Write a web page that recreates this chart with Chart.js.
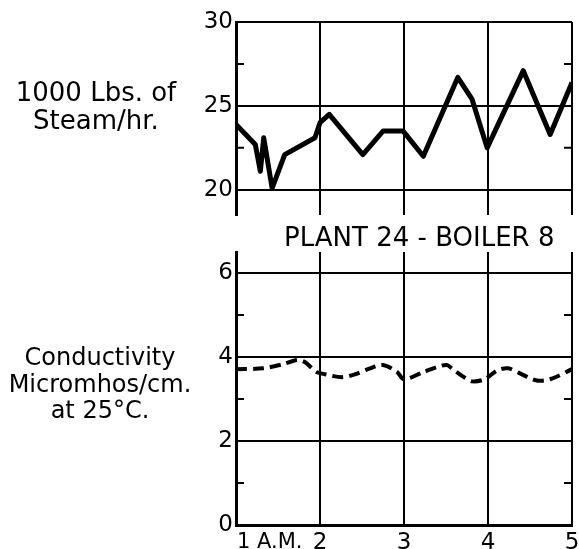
<!DOCTYPE html>
<html>
<head>
<meta charset="utf-8">
<script src="https://cdn.jsdelivr.net/npm/chart.js@4"></script>
<style>
  body { margin: 0; background: #fff; }
  #wrap { position: relative; width: 579px; height: 549px; font-family: "DejaVu Sans", sans-serif; color: #000; }
  canvas { position: absolute; left: 0; }
  .lbl { position: absolute; text-align: center; white-space: nowrap; }
</style>
</head>
<body>
<div id="wrap">
  <canvas id="steamChart" width="579" height="232" style="top:0"></canvas>
  <canvas id="condChart" width="579" height="329" style="top:220px"></canvas>
  <div class="lbl" style="left:0;top:78px;width:192px;line-height:28px;font-size:26px;">1000 Lbs. of<br>Steam/hr.</div>
  <div class="lbl" style="left:4px;top:344px;width:192px;line-height:26.5px;font-size:24px;">Conductivity<br>Micromhos/cm.<br>at 25°C.</div>
  <div class="lbl" style="left:284px;top:222px;font-size:26px;line-height:30px;">PLANT 24 - BOILER 8</div>
</div>
<script>
// hours after 1 A.M.
var hourTicks = [1, 2, 3, 4, 5];
var hourLabels = ["1 A.M.", "2", "3", "4", "5"];

// steam flow, 1000 lbs/hr
var steamHours = [1.0, 1.23, 1.29, 1.33, 1.43, 1.58, 1.94, 2.0, 2.11, 2.51, 2.75, 2.99, 3.23, 3.64, 3.81, 3.99, 4.42, 4.74, 5.0];
var steamValues = [23.9, 22.7, 21.1, 23.1, 20.1, 22.1, 23.1, 24.0, 24.5, 22.1, 23.5, 23.5, 22.0, 26.7, 25.4, 22.5, 27.1, 23.3, 26.4];
var steamTicks = [20, 22.5, 25, 27.5, 30];
var steamLabels = [20, 25, 30];

// conductivity, micromhos/cm
var condHours = [1.0, 1.32, 1.56, 1.73, 1.82, 1.96, 2.06, 2.26, 2.42, 2.57, 2.75, 2.92, 3.0, 3.23, 3.39, 3.51, 3.58, 3.70, 3.81, 3.96, 4.11, 4.24, 4.38, 4.58, 4.74, 5.0];
var condValues = [3.71, 3.73, 3.83, 3.93, 3.88, 3.64, 3.59, 3.52, 3.59, 3.71, 3.81, 3.64, 3.47, 3.64, 3.76, 3.81, 3.71, 3.54, 3.42, 3.47, 3.68, 3.73, 3.61, 3.44, 3.47, 3.71];
var condTicks = [0, 1, 2, 3, 4, 5, 6];
var condLabels = [0, 2, 4, 6];

function pts(xs, ys) {
  return xs.map(function (x, i) { return { x: x, y: ys[i] }; });
}

var tickFont = { family: "DejaVu Sans", size: 23 };

// short inside tick marks for the unlabeled values
var minorTicks = {
  id: 'minorTicks',
  afterDraw: function (chart) {
    var y = chart.scales.y, a = chart.chartArea, c = chart.ctx;
    var labels = chart.options.plugins.minorTicks.labels;
    c.save();
    c.strokeStyle = '#000';
    c.lineWidth = 2;
    y.ticks.forEach(function (t) {
      if (labels.indexOf(t.value) >= 0) return;
      var py = y.getPixelForValue(t.value);
      c.beginPath();
      c.moveTo(a.left, py); c.lineTo(a.left + 8, py);
      c.moveTo(a.right - 8, py); c.lineTo(a.right, py);
      c.stroke();
    });
    c.restore();
  }
};

// x labels: first one starts at the axis, others centered
var hourText = {
  id: 'hourText',
  afterDraw: function (chart) {
    if (!chart.options.plugins.hourText.show) return;
    var x = chart.scales.x, a = chart.chartArea, c = chart.ctx;
    c.save();
    c.fillStyle = '#000';
    c.textBaseline = 'middle';
    hourTicks.forEach(function (h, i) {
      c.font = (i === 0 ? '21px' : '23px') + ' "DejaVu Sans"';
      c.textAlign = i === 0 ? 'left' : 'center';
      c.fillText(hourLabels[i], x.getPixelForValue(h) + (i === 0 ? 1 : 0), a.bottom + 18);
    });
    c.restore();
  }
};

function makeOptions(yMin, yMax, ticks, labels, pad, showX) {
  return {
    responsive: false,
    animation: false,
    layout: { padding: pad },
    plugins: {
      legend: { display: false },
      tooltip: { enabled: false },
      minorTicks: { labels: labels },
      hourText: { show: showX }
    },
    scales: {
      x: {
        type: 'linear',
        min: 1, max: 5,
        afterBuildTicks: function (s) { s.ticks = hourTicks.map(function (v) { return { value: v }; }); },
        afterFit: function (s) { s.height = 0; },
        ticks: { display: false },
        grid: { color: '#000', lineWidth: 2, drawTicks: false },
        border: { display: showX, color: '#000', width: 3 }
      },
      y: {
        min: yMin, max: yMax,
        afterBuildTicks: function (s) { s.ticks = ticks.map(function (v) { return { value: v }; }); },
        afterFit: function (s) { s.width = 236; },
        ticks: {
          color: '#000',
          font: tickFont,
          padding: 3,
          callback: function (v) { return labels.indexOf(v) >= 0 ? String(v) : ''; }
        },
        grid: {
          drawTicks: false,
          lineWidth: 2,
          color: function (ctx) {
            return ctx.tick && labels.indexOf(ctx.tick.value) >= 0 ? '#000' : 'rgba(0,0,0,0)';
          }
        },
        border: { color: '#000', width: 3 }
      }
    }
  };
}

new Chart(document.getElementById('steamChart').getContext('2d'), {
  type: 'line',
  data: {
    datasets: [{
      label: '1000 Lbs. of Steam/hr.',
      data: pts(steamHours, steamValues),
      borderColor: '#000',
      borderWidth: 5,
      borderJoinStyle: 'round',
      pointRadius: 0,
      tension: 0
    }]
  },
  options: makeOptions(18.5, 30, steamTicks, steamLabels, { top: 22, right: 7, bottom: 17, left: 0 }, false),
  plugins: [minorTicks, hourText]
});

new Chart(document.getElementById('condChart').getContext('2d'), {
  type: 'line',
  data: {
    datasets: [{
      label: 'Conductivity Micromhos/cm. at 25°C.',
      data: pts(condHours, condValues),
      borderColor: '#000',
      borderWidth: 4,
      borderDash: [11, 6],
      pointRadius: 0,
      tension: 0.3
    }]
  },
  options: makeOptions(0, 6.5, condTicks, condLabels, { top: 32, right: 7, bottom: 24, left: 0 }, true),
  plugins: [minorTicks, hourText]
});
</script>
</body>
</html>
